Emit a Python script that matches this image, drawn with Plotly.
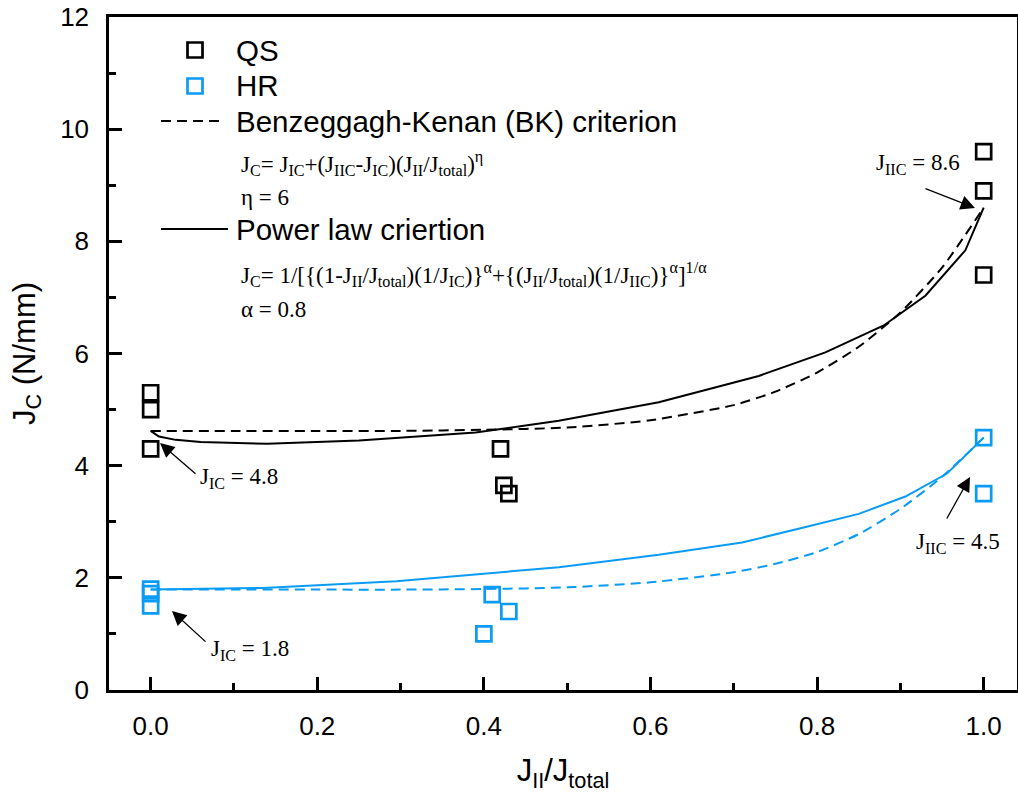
import plotly.graph_objects as go

# ---------------- data ----------------
qs_x = [0.0, 0.0, 0.0, 0.42, 0.424, 0.43, 1.0, 1.0, 1.0]
qs_y = [5.3, 5.0, 4.3, 4.3, 3.65, 3.5, 9.6, 8.9, 7.4]
hr_x = [0.0, 0.0, 0.0, 0.41, 0.43, 0.40, 1.0, 1.0]
hr_y = [1.8, 1.72, 1.5, 1.7, 1.4, 1.0, 4.5, 3.5]

bk_x = [0.0, 0.1, 0.2, 0.3, 0.4, 0.5, 0.6, 0.7, 0.75, 0.8, 0.85, 0.9, 0.95, 1.0]
qs_bk_y = [4.62, 4.62, 4.62, 4.62, 4.64, 4.68, 4.81, 5.08, 5.32, 5.66, 6.12, 6.73, 7.53, 8.6]
hr_bk_y = [1.79, 1.79, 1.79, 1.79, 1.80, 1.83, 1.92, 2.10, 2.25, 2.46, 2.78, 3.23, 3.80, 4.5]

qs_pl_x = [0.0, 0.01, 0.03, 0.06, 0.14, 0.25, 0.39, 0.49, 0.61, 0.73, 0.81, 0.88, 0.93, 0.978, 1.0]
qs_pl_y = [4.62, 4.52, 4.46, 4.42, 4.39, 4.45, 4.59, 4.80, 5.13, 5.60, 6.02, 6.50, 7.03, 7.84, 8.6]
hr_pl_x = [0.0, 0.135, 0.295, 0.49, 0.61, 0.71, 0.79, 0.85, 0.906, 0.956, 1.0]
hr_pl_y = [1.79, 1.82, 1.94, 2.19, 2.41, 2.63, 2.92, 3.14, 3.45, 3.86, 4.5]

x_ticks = [0.0, 0.2, 0.4, 0.6, 0.8, 1.0]
x_tick_labels = ["0.0", "0.2", "0.4", "0.6", "0.8", "1.0"]
y_ticks = [0, 2, 4, 6, 8, 10, 12]
y_tick_labels = ["0", "2", "4", "6", "8", "10", "12"]

BLACK = "#000000"
BLUE = "#0A9CF5"
SANS = "Liberation Sans, Arial, sans-serif"
SERIF = "Liberation Serif, Times New Roman, serif"

# ---------------- layout geometry ----------------
W, H = 1018, 803
L, R, T, B = 109, 1, 17, 113
PW, PH = W - L - R, H - T - B


def px(xp):
    return (xp - L) / PW


def py(yp):
    return (H - B - yp) / PH


fig = go.Figure()

fig.add_trace(go.Scatter(x=bk_x, y=qs_bk_y, mode="lines", line=dict(color=BLACK, width=2, dash="10px,6px", shape="spline", smoothing=0.6), showlegend=False))
fig.add_trace(go.Scatter(x=qs_pl_x, y=qs_pl_y, mode="lines", line=dict(color=BLACK, width=2), showlegend=False))
fig.add_trace(go.Scatter(x=bk_x, y=hr_bk_y, mode="lines", line=dict(color=BLUE, width=2, dash="10px,6px", shape="spline", smoothing=0.6), showlegend=False))
fig.add_trace(go.Scatter(x=hr_pl_x, y=hr_pl_y, mode="lines", line=dict(color=BLUE, width=2), showlegend=False))

fig.add_trace(go.Scatter(x=qs_x, y=qs_y, mode="markers", name="QS",
                         marker=dict(symbol="square-open", size=15, color=BLACK, line=dict(width=2.7, color=BLACK)), showlegend=False))
fig.add_trace(go.Scatter(x=hr_x, y=hr_y, mode="markers", name="HR",
                         marker=dict(symbol="square-open", size=15, color=BLUE, line=dict(width=2.7, color=BLUE)), showlegend=False))

axis_common = dict(
    showline=True, linecolor=BLACK, linewidth=2.5, mirror=True,
    ticks="inside", ticklen=13, tickwidth=2.5, tickcolor=BLACK,
    showgrid=False, zeroline=False,
    tickfont=dict(family=SANS, size=26, color=BLACK),
)

fig.update_xaxes(range=[-0.05, 1.04], tickvals=x_ticks, ticktext=x_tick_labels,
                 minor=dict(ticks="inside", ticklen=7, tickwidth=2.5, tickcolor=BLACK, dtick=0.1, tick0=0, showgrid=False),
                 ticklabelstandoff=11,
                 title=dict(text="J<sub>II</sub>/J<sub>total</sub>", font=dict(family=SANS, size=31, color=BLACK), standoff=20),
                 **axis_common)
fig.update_yaxes(range=[0, 12], tickvals=y_ticks, ticktext=y_tick_labels,
                 minor=dict(ticks="inside", ticklen=7, tickwidth=2.5, tickcolor=BLACK, dtick=1, tick0=0, showgrid=False),
                 ticklabelstandoff=12,
                 title=dict(text="J<sub>C</sub> (N/mm)", font=dict(family=SANS, size=31, color=BLACK), standoff=16),
                 **axis_common)

shapes = []
s = 15
for cy, col in [(50, BLACK), (86, BLUE)]:
    shapes.append(dict(type="rect", xref="paper", yref="paper",
                       x0=px(195 - s / 2), x1=px(195 + s / 2), y0=py(cy + s / 2), y1=py(cy - s / 2),
                       line=dict(color=col, width=2.7)))
shapes.append(dict(type="line", xref="paper", yref="paper", x0=px(161), x1=px(222), y0=py(121), y1=py(121),
                   line=dict(color=BLACK, width=2, dash="10px,6px")))
shapes.append(dict(type="line", xref="paper", yref="paper", x0=px(161), x1=px(228), y0=py(229), y1=py(229),
                   line=dict(color=BLACK, width=2)))

annotations = []


def text(xp, yp, t, size, family, anchor="left"):
    annotations.append(dict(x=px(xp), y=py(yp), xref="paper", yref="paper", text=t, showarrow=False,
                            xanchor=anchor, yanchor="middle", font=dict(family=family, size=size, color=BLACK)))


text(234, 50, "QS", 29.5, SANS)
text(234, 86, "HR", 29.5, SANS)
text(234, 121, "Benzeggagh-Kenan (BK) criterion", 29.5, SANS)
text(234, 229, "Power law criertion", 29.5, SANS)
text(239, 163, "J<sub>C</sub>= J<sub>IC</sub>+(J<sub>IIC</sub>-J<sub>IC</sub>)(J<sub>II</sub>/J<sub>total</sub>)<sup>η</sup>", 23, SERIF)
text(239, 197, "η = 6", 23, SERIF)
text(239, 274, "J<sub>C</sub>= 1/[{(1-J<sub>II</sub>/J<sub>total</sub>)(1/J<sub>IC</sub>)}<sup>α</sup>+{(J<sub>II</sub>/J<sub>total</sub>)(1/J<sub>IIC</sub>)}<sup>α</sup>]<sup>1/α</sup>", 23, SERIF)
text(239, 309, "α = 0.8", 23, SERIF)

text(874, 164, "J<sub>IIC</sub> = 8.6", 23, SERIF)
text(198, 478, "J<sub>IC</sub> = 4.8", 23, SERIF)
text(209, 650, "J<sub>IC</sub> = 1.8", 23, SERIF)
text(914, 543, "J<sub>IIC</sub> = 4.5", 23, SERIF)


def arrow(hx, hy, tx, ty):
    annotations.append(dict(x=px(hx), y=py(hy), xref="paper", yref="paper", text="", showarrow=True,
                            ax=tx - hx, ay=ty - hy, arrowhead=2, arrowsize=2.2, arrowwidth=1.3,
                            arrowcolor=BLACK, standoff=0))


arrow(975, 208, 924, 188)
arrow(160, 443, 197, 475)
arrow(172, 611, 207, 643)
arrow(970, 477, 946, 520)

fig.update_layout(
    width=W, height=H, margin=dict(l=L, r=R, t=T, b=B, autoexpand=False),
    paper_bgcolor="white", plot_bgcolor="white",
    shapes=shapes, annotations=annotations, showlegend=False,
)

fig.write_html("out.html")
